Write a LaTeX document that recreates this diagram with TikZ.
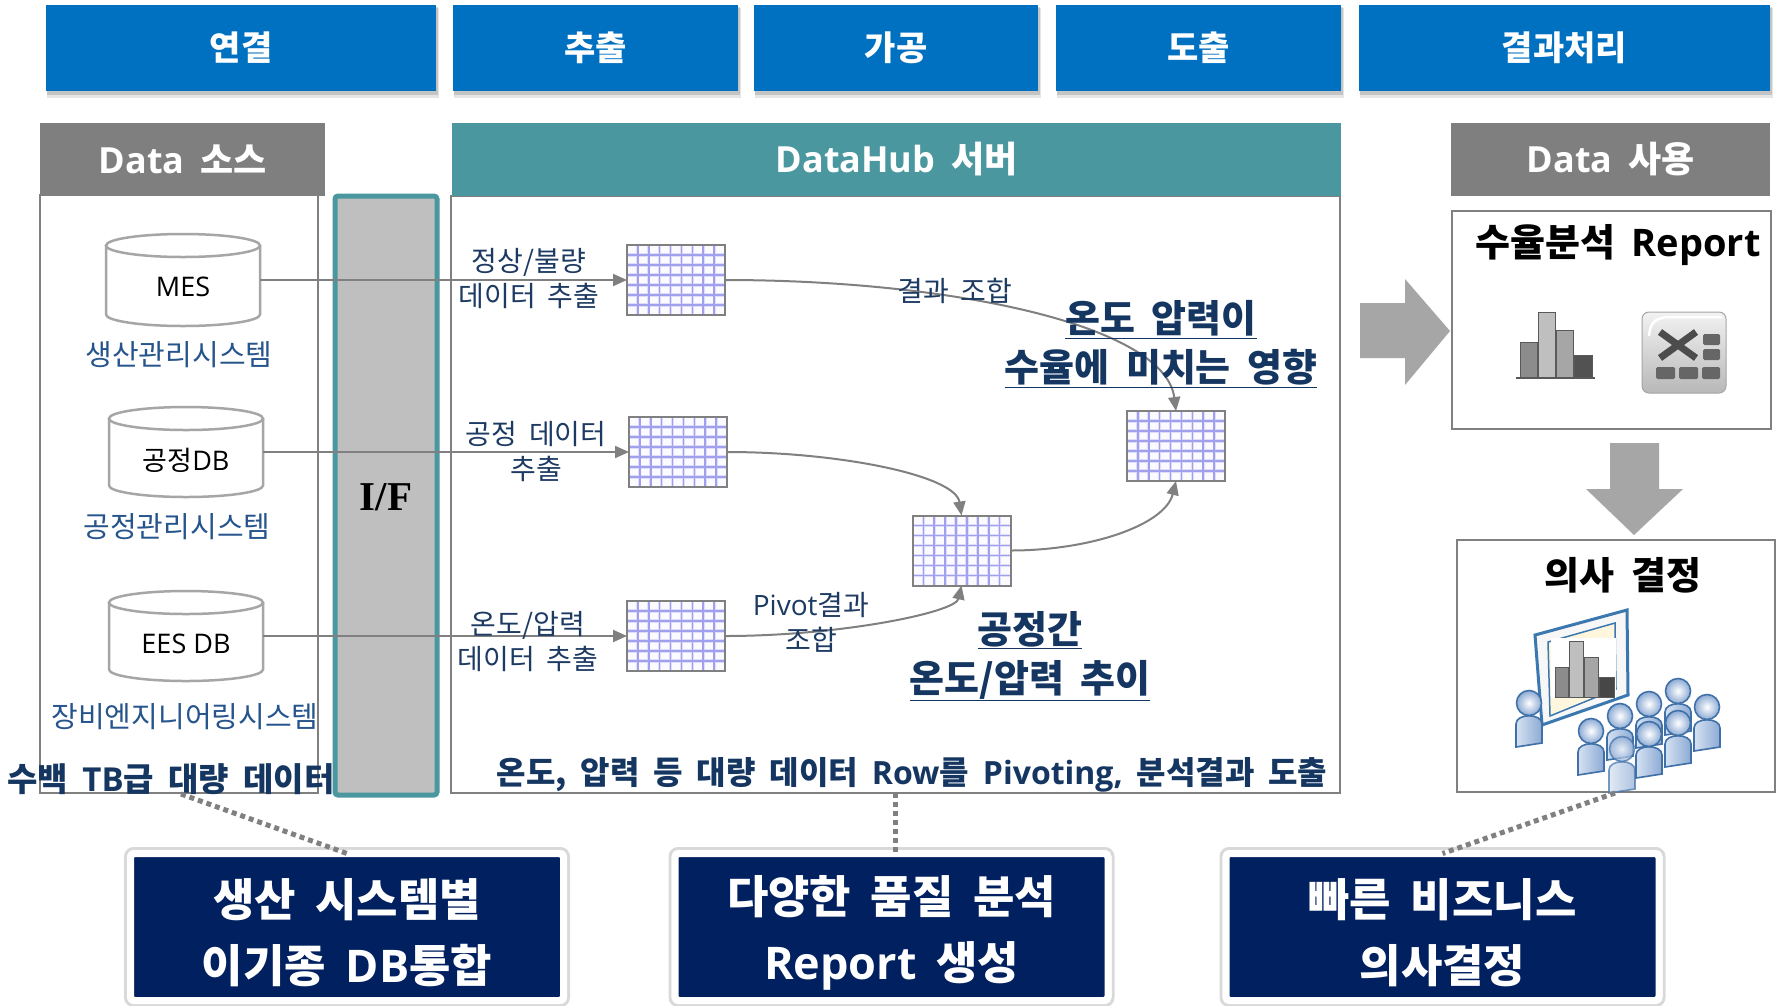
\documentclass[tikz,border=0pt]{standalone}
\usepackage{fontspec}
\setmainfont[WordSpace=1.9]{Noto Sans CJK KR}
\newfontfamily\latinface{Open Sans}
\newfontfamily\ifface{Liberation Serif}
\newcommand\latw[1]{{\latinface #1}}
\newcommand\fsz[2]{\fontsize{#1}{#2}\selectfont}
\usetikzlibrary{arrows.meta,calc,backgrounds}

\definecolor{hdrblue}{RGB}{0,112,192}
\definecolor{hubteal}{RGB}{74,151,159}
\definecolor{hdrgray}{RGB}{127,127,127}
\definecolor{ifgray}{RGB}{191,191,191}
\definecolor{panelgray}{RGB}{128,128,128}
\definecolor{drumgray}{RGB}{166,166,166}
\definecolor{capblue}{RGB}{38,84,140}
\definecolor{lblnavy}{RGB}{28,58,98}
\definecolor{boldnavy}{RGB}{20,54,96}
\definecolor{boxnavy}{RGB}{0,32,96}
\definecolor{flowgray}{RGB}{128,128,128}
\definecolor{gridfill}{RGB}{250,250,255}
\definecolor{gridsoft}{RGB}{222,222,252}
\definecolor{gridmain}{RGB}{160,160,236}
\definecolor{bigarrow}{RGB}{166,166,166}
\definecolor{persline}{RGB}{64,112,168}
\definecolor{perslight}{RGB}{214,226,242}
\definecolor{persdark}{RGB}{140,170,212}
\definecolor{screenline}{RGB}{60,120,176}
\definecolor{screencream}{RGB}{255,246,222}

% one audience member: head centre x, y, opacity
\newcommand\persona[3]{%
  \begin{scope}[opacity=#3]
    \shade[left color=perslight,right color=persdark,draw=persline,line width=1.6]
      (#1-13,#2+44) -- (#1-13,#2+21) .. controls (#1-13,#2+10) and (#1+13,#2+10) .. (#1+13,#2+21)
      -- (#1+13,#2+40) -- cycle;
    \shade[inner color=white,outer color=persdark,draw=persline,line width=1.6] (#1,#2) circle (12.5);
  \end{scope}}

% database drum outline around a named node
\newcommand\dbdrum[1]{%
  \draw[drumline] ($(#1.north west)+(0,11.5)$) -- ($(#1.south west)+(0,-11.5)$)
    arc[start angle=180,end angle=0,x radius=77,y radius=11.5] -- ($(#1.north east)+(0,11.5)$);
  \draw[drumline] ($(#1.north)+(0,11.5)$) ellipse[x radius=77,y radius=11.5];}

\begin{document}
\begin{tikzpicture}[x=1pt,y=1pt,yscale=-1,
  box/.style={inner sep=0,outer sep=0},
  phase/.style={box,fill=hdrblue,text=white,font=\fsz{34}{38}\bfseries,minimum height=86},
  sect/.style={box,text=white,font=\fsz{36}{40}\bfseries,minimum height=73},
  panel/.style={box,draw=panelgray,line width=2},
  drumnode/.style={box,minimum width=154,font=\fsz{27}{30}},
  drumline/.style={draw=drumgray,line width=2.5,fill=white},
  sys/.style={text=capblue,font=\fsz{29}{32}},
  cube/.style={box,draw=panelgray,line width=2,fill=gridfill,minimum width=98,minimum height=70},
  cellsoft/.style={draw=gridsoft,line width=3.2},
  cellmain/.style={draw=gridmain,line width=1.6},
  flow/.style={draw=flowgray,line width=2,-{Triangle[length=14pt,width=12pt]}},
  note/.style={text=lblnavy,font=\fsz{28}{35},align=center},
  keynote/.style={text=boldnavy,font=\fsz{38}{49}\bfseries,align=center},
  outcome/.style={box,fill=boxnavy,draw=white,line width=7,rounded corners=4,
    minimum width=433,minimum height=147},
  outtext/.style={box,text=white,font=\fsz{45}{66}\bfseries,align=center},
  dotlink/.style={draw=flowgray,line width=5,dash pattern=on 5pt off 4pt},
]
\useasboundingbox (0,0) rectangle (1777,1005);

% ---- panels
\node[panel,minimum width=278,minimum height=598] (srcbody) at (179,494) {};
\node[panel,minimum width=889,minimum height=597] (hubbody) at (895.5,494.5) {};
\node[panel,minimum width=319,minimum height=218] (rptbox) at (1611.5,320) {};
\node[panel,minimum width=318,minimum height=252] (decbox) at (1616,666) {};

% ---- phase headers
\node[phase,minimum width=390] (ph1) at (241,48) {\raisebox{-3pt}{연결}};
\node[phase,minimum width=285] (ph2) at (595.5,48) {\raisebox{-3pt}{추출}};
\node[phase,minimum width=284] (ph3) at (896,48) {\raisebox{-3pt}{가공}};
\node[phase,minimum width=285] (ph4) at (1198.5,48) {\raisebox{-3pt}{도출}};
\node[phase,minimum width=411] (ph5) at (1564.5,48) {\raisebox{-3pt}{결과처리}};

% ---- section headers
\node[sect,fill=hdrgray,minimum width=285] (srchdr) at (182.5,159.5) {\latw{Data} 소스};
\node[sect,fill=hubteal,minimum width=889] (hubhdr) at (896.5,159.5) {\latw{DataHub} 서버};
\node[sect,fill=hdrgray,minimum width=319] (usehdr) at (1610.5,159.5) {\latw{Data} 사용};

% ---- interface column
\node[box,fill=ifgray,draw=hubteal,line width=5,rounded corners=3,minimum width=102,minimum height=599]
  (ifbox) at (386,495.5) {};
\node[box,font=\ifface\fsz{41}{44}\bfseries] (iflabel) at (386,497) {I/F};

% ---- source databases
\node[drumnode,minimum height=92] (mes) at (183,280) {};
\node[drumnode,minimum height=90] (procdb) at (186,452) {};
\node[drumnode,minimum height=90] (eesdb) at (186,636) {};
\dbdrum{mes}\dbdrum{procdb}\dbdrum{eesdb}
\node[box,font=\fsz{27}{30}] (mestxt) at (183,287) {\latw{MES}};
\node[box,font=\fsz{27}{30}] (proctxt) at (186,460) {공정\latw{DB}};
\node[box,font=\fsz{27}{30}] (eestxt) at (186,644) {\latw{EES DB}};
\node[sys] (messys) at (179,355) {생산관리시스템};
\node[sys] (procsys) at (177,527) {공정관리시스템};
\node[sys] (eessys) at (185,717) {장비엔지니어링시스템};

% ---- data cubes
\node[cube] (g1) at (676,280) {};
\node[cube] (g2) at (678,452) {};
\node[cube] (g3) at (676,636) {};
\node[cube] (g4) at (961.5,550.5) {};
\node[cube] (g5) at (1176,446) {};
\foreach \g in {g1,g2,g3,g4,g5}{
  \foreach \k in {1,...,8}{
    \draw[cellsoft] ($(\g.north west)!\k/9!(\g.north east)$) -- ($(\g.south west)!\k/9!(\g.south east)$);}
  \foreach \k in {1,...,6}{
    \draw[cellsoft] ($(\g.north west)!\k/7!(\g.south west)$) -- ($(\g.north east)!\k/7!(\g.south east)$);}
  \foreach \k in {1,...,8}{
    \draw[cellmain] ($(\g.north west)!\k/9!(\g.north east)$) -- ($(\g.south west)!\k/9!(\g.south east)$);}
  \foreach \k in {1,...,6}{
    \draw[cellmain] ($(\g.north west)!\k/7!(\g.south west)$) -- ($(\g.north east)!\k/7!(\g.south east)$);}
  \draw[draw=panelgray,line width=2] (\g.north west) rectangle (\g.south east);
}

% ---- flows
\draw[flow] (mes.east) -- (g1.west);
\draw[flow] (procdb.east) -- (g2.west);
\draw[flow] (eesdb.east) -- (g3.west);
\draw[flow] (g1.east) .. controls +(225,0) and +(-11,-86) .. (g5.north);
\draw[flow] (g2.east) .. controls +(113,0) and +(-6,-40) .. (g4.north);
\draw[flow] (g3.east) .. controls +(115,0) and +(-6,27) .. (g4.south);
\draw[flow] (g4.east) .. controls +(80,0) and +(-11,44) .. (g5.south);

% ---- flow labels
\node[note] (la) at (529,279) {정상/불량\\데이터 추출};
\node[note] (lb) at (536,452) {공정 데이터\\추출};
\node[note] (lc) at (528,642) {온도/압력\\데이터 추출};
\node[note] (ld) at (955,291) {결과 조합};
\node[note] (le) at (811,622) {\latw{Pivot}결과\\조합};
\node[keynote] (lf) at (1030,656) {\underline{공정간}\\\underline{온도/압력 추이}};
\node[keynote] (lg) at (1161,344) {\underline{온도 압력이}\\\underline{수율에 미치는 영향}};
\node[text=boldnavy,font=\fsz{32}{36}\bfseries] (hubnote) at (912,775)
  {온도, 압력 등 대량 데이터 \latw{Row}를 \latw{Pivoting,} 분석결과 도출};
\node[text=boldnavy,font=\fsz{33}{36}\bfseries] (srcnote) at (171,779)
  {수백 \latw{TB}급 대량 데이터};

% ---- block arrows
\fill[bigarrow] (1360,303) -- (1405,303) -- (1405,279) -- (1450,331) -- (1405,385) -- (1405,358) -- (1360,358) -- cycle;
\fill[bigarrow] (1610,443) -- (1659,443) -- (1659,489) -- (1683,489) -- (1634,535) -- (1586,489) -- (1610,489) -- cycle;

% ---- report panel
\node[box,font=\fsz{38}{40}\bfseries] (rpttitle) at (1618,245) {수율분석 \latw{Report}};
\begin{scope}[draw=black!65,line width=1]
  \filldraw[fill=black!45] (1520,342) rectangle (1537,378);
  \filldraw[fill=black!25] (1538,312) rectangle (1555,378);
  \filldraw[fill=black!35] (1556,330) rectangle (1573,378);
  \filldraw[fill=black!68] (1574,355) rectangle (1592,378);
\end{scope}
\draw[black!65,line width=2] (1516,378) -- (1595,378);
% spreadsheet icon
\shade[top color=black!5,bottom color=black!28,draw=black!35,line width=1,rounded corners=7]
  (1642,312) rectangle (1726,393);
\draw[white,line width=2.5] (1649,336) .. controls (1650,322) and (1656,318) .. (1668,317) -- (1722,317);
\draw[black!70,line width=7] (1660,332) -- (1696,358);
\draw[black!70,line width=7] (1660,358) -- (1696,332);
\begin{scope}[fill=black!60,rounded corners=1.5]
  \fill (1703,334) rectangle (1720,345);
  \fill (1703,349) rectangle (1720,360);
  \fill (1656,367) rectangle (1675,379);
  \fill (1679,367) rectangle (1698,379);
  \fill (1702,367) rectangle (1720,379);
\end{scope}

% ---- decision panel
\node[box,font=\fsz{38}{40}\bfseries] (dectitle) at (1623,575) {의사 결정};
\filldraw[fill=black!3,draw=screenline,line width=3] (1535,635) -- (1627,610) -- (1628,695) -- (1542,725) -- cycle;
\filldraw[fill=screencream,draw=screenline,line width=1.5] (1548,642) -- (1615,623) -- (1616,689) -- (1550,716) -- cycle;
\fill[white] (1551,638) rectangle (1616,698);
\begin{scope}[draw=black!65,line width=0.8]
  \filldraw[fill=black!45] (1555,667) rectangle (1568,697);
  \filldraw[fill=black!25] (1569,641) rectangle (1583,697);
  \filldraw[fill=black!35] (1584,657) rectangle (1598,697);
  \filldraw[fill=black!72] (1599,677) rectangle (1614,697);
\end{scope}
\persona{1678}{691}{1}
\persona{1529}{703}{1}
\persona{1649}{704}{1}
\persona{1707}{707}{1}
\persona{1620}{716}{1}
\persona{1678}{723}{1}
\persona{1591}{731}{1}
\persona{1649}{734}{1}
\persona{1622}{749}{0.7}

% ---- outcome boxes
\node[outcome] (bb1) at (347,927) {};
\node[outcome] (bb2) at (891.5,927) {};
\node[outcome] (bb3) at (1442.5,927) {};
\node[outtext] (bt1) at (347,933) {생산 시스템별\\이기종 \latw{DB}통합};
\node[outtext] (bt2) at (891.5,933) {다양한 품질 분석\\\latw{Report} 생성};
\node[outtext] (bt3) at (1442.5,933) {빠른 비즈니스\\의사결정};

\coordinate (srcfoot) at (181,794);
\coordinate (decfoot) at (1615,793);
\draw[dotlink] (srcfoot) -- (bb1.north);
\draw[dotlink] (hubbody.south) -- (hubbody.south |- bb2.north);
\draw[dotlink] (decfoot) -- (bb3.north);

% ---- paper and soft shadows
\begin{scope}[on background layer]
  \fill[white] (0,0) rectangle (1777,1005);
  \foreach \h in {ph1,ph2,ph3,ph4,ph5}{
    \fill[black,opacity=.10] ($(\h.north west)+(1,3)$) rectangle ($(\h.south east)+(3,7)$);
    \fill[black,opacity=.14] ($(\h.north west)+(1,2)$) rectangle ($(\h.south east)+(2,3.5)$);}
  \foreach \b in {bb1,bb2,bb3}{
    \draw[black,opacity=.15,line width=3,rounded corners=8]
      ($(\b.north west)+(-5,-5)$) rectangle ($(\b.south east)+(5,5)$);}
\end{scope}
\end{tikzpicture}
\end{document}
